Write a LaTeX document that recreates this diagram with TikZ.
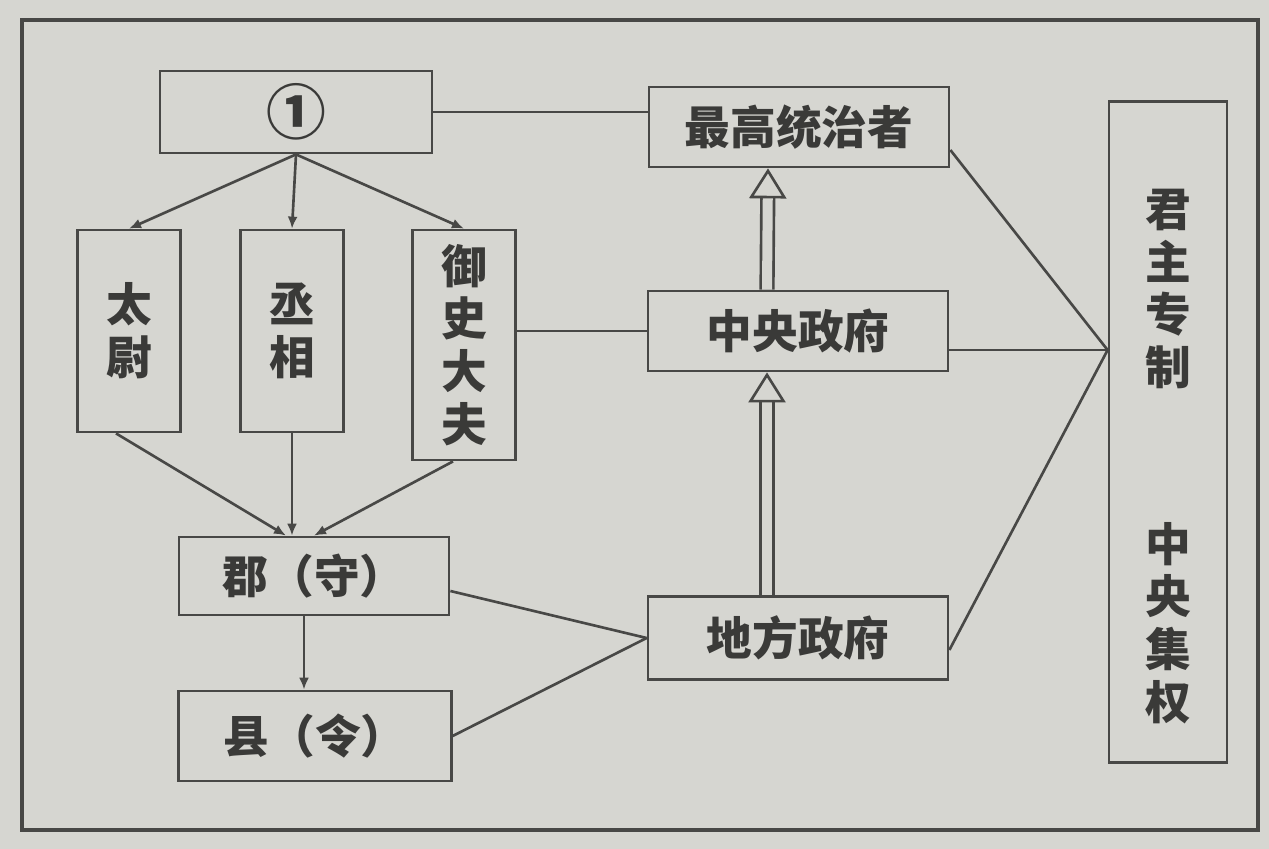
\documentclass[tikz,border=0pt]{standalone}
\usepackage{fontspec}
\setmainfont{Noto Sans CJK SC}
\usetikzlibrary{arrows.meta}
\definecolor{paper}{RGB}{214,214,209}
\definecolor{ink}{RGB}{72,72,70}
\begin{document}
\begin{tikzpicture}[x=0.02cm,y=-0.02cm,
  box/.style={draw=ink,line width=1.6pt,inner sep=0pt,text=ink!80!black,
    font=\fontsize{26pt}{30pt}\selectfont\bfseries},
  tall/.style={box,align=center,minimum width=2.06cm},
  vtext/.style={align=center,inner sep=0pt,text=ink!80!black,
    font=\fontsize{26pt}{30pt}\selectfont\bfseries},
  link/.style={draw=ink,line width=1.5pt},
  arr/.style={link,-{Latex[length=0.24cm,width=0.2cm]}},
  dbl/.style={draw=ink,line width=1.5pt,double=paper,double distance=0.2cm,
    -{Triangle[open,length=0.6cm,width=0.74cm,fill=paper]}}]
\useasboundingbox (0,0) rectangle (1269,849);
\fill[paper] (0,0) rectangle (1269,849);

% outer frame
\draw[ink,line width=2pt] (22,20) rectangle (1258,830);

% left part: offices
\node[box,minimum width=5.44cm,minimum height=1.64cm,font=\fontsize{34pt}{36pt}\selectfont\bfseries] (one) at (296,112) {①};
\node[tall,minimum height=4.04cm] (taiwei) at (129,331) {太\\尉};
\node[tall,minimum height=4.04cm] (chengxiang) at (292,331) {丞\\相};
\node[tall,minimum height=4.6cm] (yushi) at (464,345) {御\\史\\大\\夫};
\node[box,minimum width=5.4cm,minimum height=1.56cm] (jun) at (314,576) {郡（守）};
\node[box,minimum width=5.45cm,minimum height=1.8cm] (xian) at (315,736) {县（令）};

% middle part: levels of government
\node[box,minimum width=6cm,minimum height=1.6cm] (ruler) at (799,127) {最高统治者};
\node[box,minimum width=6cm,minimum height=1.6cm] (central) at (798,331) {中央政府};
\node[box,minimum width=6cm,minimum height=1.66cm] (local) at (798,638) {地方政府};

% right part: the two features
\node[box,minimum width=2.36cm,minimum height=13.22cm] (power) at (1168,432) {};
\node[vtext] (autocracy) at (1168,289) {君\\主\\专\\制};
\node[vtext] (unity) at (1168,623) {中\\央\\集\\权};
\coordinate (hub) at ([yshift=1.64cm]power.west);

% arrows from the emperor's court
\draw[arr] (one.south) -- (taiwei.north);
\draw[arr] (one.south) -- (chengxiang.north);
\draw[arr] (one.south) -- (yushi.north);
\draw[arr] ([xshift=-0.26cm]taiwei.south) -- ([xshift=-0.56cm]jun.north);
\draw[arr] (chengxiang.south) -- (chengxiang.south |- jun.north);
\draw[arr] ([xshift=-0.22cm]yushi.south) -- (jun.north);
\draw[arr] ([xshift=-0.2cm]jun.south) -- ([xshift=-0.2cm]jun.south |- xian.north);

% plain links
\draw[link] (one.east) -- (one.east -| ruler.west);
\draw[link] (yushi.east |- central.west) -- (central.west);
\draw[link] ([yshift=-0.3cm]jun.east) -- (local.west);
\draw[link] (xian.east) -- (local.west);
\draw[link] ([yshift=-0.46cm]ruler.east) -- (hub);
\draw[link] (central.east |- hub) -- (hub);
\draw[link] ([yshift=-0.24cm]local.east) -- (hub);

% hollow arrows upwards
\draw[dbl] ([xshift=-0.62cm]local.north) -- ([xshift=-0.62cm]central.south);
\draw[dbl] ([xshift=-0.62cm]central.north) -- ([xshift=-0.62cm]ruler.south);

\end{tikzpicture}
\end{document}
